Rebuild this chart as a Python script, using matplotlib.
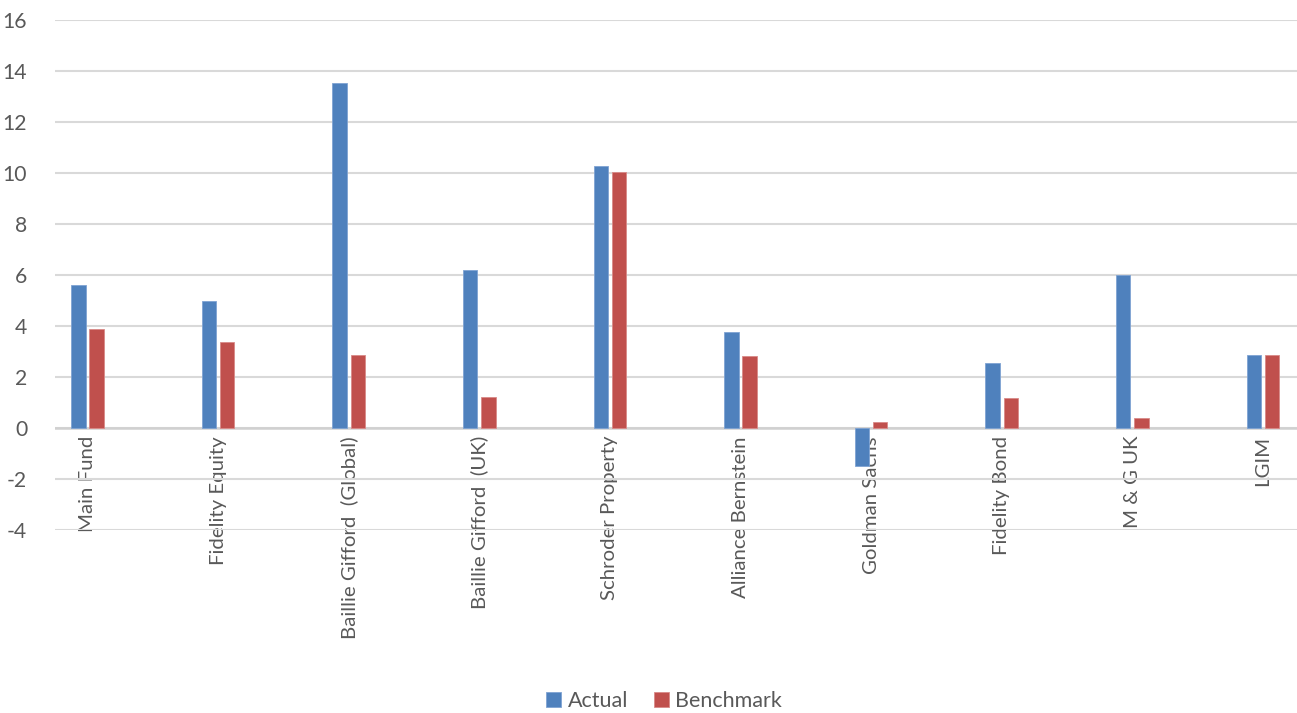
import numpy as np
import matplotlib.pyplot as plt

plt.rcParams['font.family'] = ['Lato', 'DejaVu Sans']
plt.rcParams['axes.unicode_minus'] = False

# fund names and returns (%)
funds = ["Main Fund", "Fidelity Equity", "Baillie Gifford  (Global)", "Baillie Gifford  (UK)",
         "Schroder Property", "Alliance Bernstein", "Goldman Sachs", "Fidelity Bond",
         "M & G UK", "LGIM"]
actual = [5.62, 4.97, 13.52, 6.18, 10.28, 3.76, -1.50, 2.55, 6.00, 2.85]
benchmark = [3.88, 3.38, 2.88, 1.22, 10.03, 2.84, 0.25, 1.18, 0.38, 2.85]

blue = "#4F81BD"
red = "#C0504D"
text_col = "#595959"
grid_col = "#D9D9D9"

fig = plt.figure(figsize=(12.97, 7.13), dpi=100)
ax = fig.add_axes([55 / 1297, 1 - 530 / 713, 1 - 55 / 1297, (530 - 20) / 713])

x = np.arange(len(funds))
w = 0.11
ax.bar(x - 0.07, actual, w, color=blue, edgecolor="#7FA3D3", linewidth=0.6, label="Actual", zorder=3)
ax.bar(x + 0.07, benchmark, w, color=red, edgecolor="#D98A88", linewidth=0.6, label="Benchmark", zorder=3)

ax.set_ylim(-4, 16)
ax.set_xlim(-0.249, -0.249 + 1242 / 130.6)
ax.set_yticks(range(-4, 17, 2))
ax.yaxis.grid(True, color=grid_col, linewidth=1.5, zorder=0)
ax.axhline(0, color="#D0D0D0", linewidth=1.8, zorder=2)
for s in ax.spines.values():
    s.set_visible(False)
ax.tick_params(axis="both", length=0, labelsize=15.2, labelcolor=text_col)
ax.tick_params(axis="x", labelsize=14.7)
ax.tick_params(axis="y", pad=20)
ax.set_xticks(x)
ax.set_xticklabels(funds, rotation=90, va="top", ha="center")
# category labels hang just below the zero line (94 px above the axes bottom)
ax.tick_params(axis="x", pad=-94 * 0.72)

fig.legend(loc="lower center", bbox_to_anchor=(0.512, -0.018), ncol=2, frameon=False,
           fontsize=15.5, labelcolor=text_col, handlelength=0.7, handleheight=0.7,
           handletextpad=0.3, columnspacing=1.2, borderpad=0.2)

fig.savefig("out.png", dpi=100)
